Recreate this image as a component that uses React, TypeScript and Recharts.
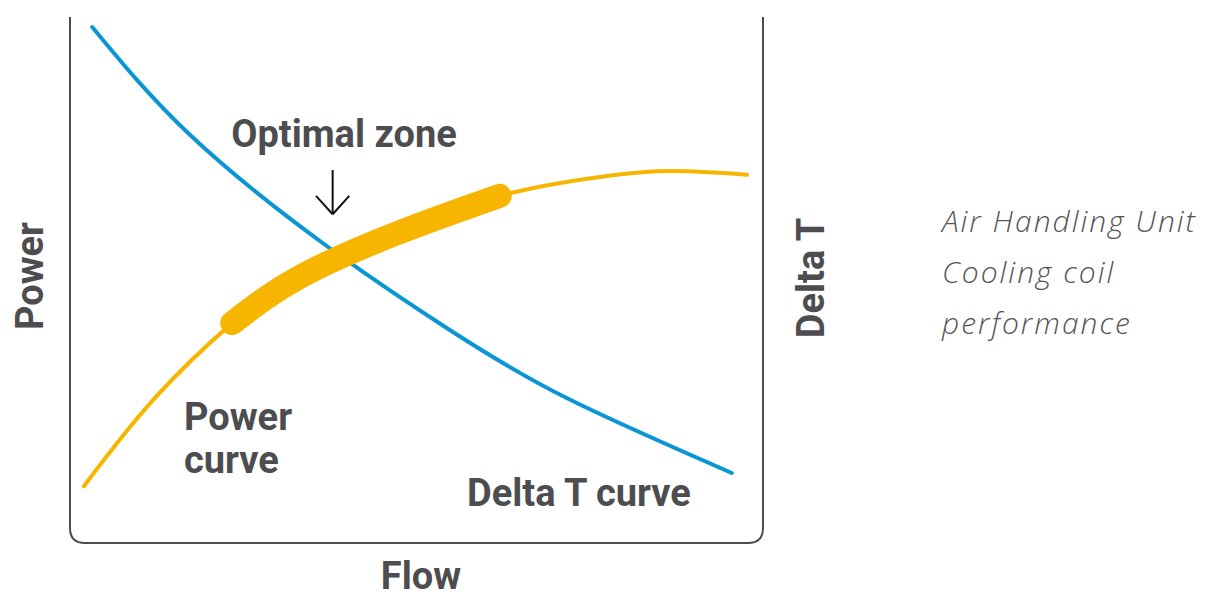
import { LineChart, Line, XAxis, YAxis, ReferenceLine, Customized } from "recharts";

// flow (0-100) and relative values
const deltaFlow = [3.2, 17.3, 36.8, 54.8, 71.6, 95.5];
const deltaValues = [98.1, 77.6, 56.7, 40.5, 27.6, 13.3];

const powerFlow = [2.0, 12.0, 23.4, 33.2, 47.6, 62.0, 76.5, 87.0, 97.7];
const powerValues = [10.8, 27.2, 41.8, 50.6, 59.1, 66.0, 69.6, 70.7, 70.0];

// the optimal zone covers this part of the power curve
const zoneFrom = 23.4;
const zoneTo = 62.0;

const deltaData = deltaFlow.map((x, i) => ({ x, y: deltaValues[i] }));
const powerData = powerFlow.map((x, i) => ({ x, y: powerValues[i] }));
const zoneData = powerData.filter((d) => d.x >= zoneFrom && d.x <= zoneTo);

const W = 1205;
const H = 597;
const margin = { top: 17, right: 442, bottom: 54, left: 70 };
const grey = "#4d4d4f";
const blue = "#0a96d4";
const orange = "#f8b500";

function Frame() {
  const x0 = margin.left;
  const x1 = W - margin.right;
  const y0 = margin.top;
  const y1 = H - margin.bottom;
  const r = 15;
  const bold = { fontFamily: "Roboto, sans-serif", fontWeight: 700, fill: grey };
  return (
    <g>
      <path
        d={`M${x0},${y0} L${x0},${y1 - r} Q${x0},${y1} ${x0 + r},${y1} L${x1 - r},${y1} Q${x1},${y1} ${x1},${y1 - r} L${x1},${y0}`}
        fill="none"
        stroke={grey}
        strokeWidth={2}
      />
      <text x={344} y={147} textAnchor="middle" fontSize={38} {...bold}>Optimal zone</text>
      <text x={184} y={430} fontSize={38} {...bold}>Power</text>
      <text x={184} y={473} fontSize={38} {...bold}>curve</text>
      <text x={467} y={506} fontSize={38} {...bold}>Delta T curve</text>
      <text x={421} y={589} textAnchor="middle" fontSize={38} {...bold}>Flow</text>
      <text x={43} y={276} textAnchor="middle" fontSize={38} transform="rotate(-90 43 276)" {...bold}>Power</text>
      <text x={824} y={278} textAnchor="middle" fontSize={38} transform="rotate(-90 824 278)" {...bold}>Delta T</text>
      <g fontFamily="'Open Sans', sans-serif" fontWeight={300} fontStyle="italic" fontSize={30} letterSpacing={2} fill="#555557">
        <text x={942} y={232}>Air Handling Unit</text>
        <text x={942} y={283}>Cooling coil</text>
        <text x={942} y={334}>performance</text>
      </g>
    </g>
  );
}

export default function App() {
  return (
    <div style={{ position: "absolute", left: 0, top: 0, background: "#fff" }}>
      <LineChart width={W} height={H} margin={margin}>
        <XAxis type="number" dataKey="x" domain={[0, 100]} hide />
        <YAxis type="number" domain={[0, 100]} hide />
        <Customized component={Frame} />
        <Line data={deltaData} dataKey="y" type="natural" stroke={blue} strokeWidth={4} dot={false} strokeLinecap="round" isAnimationActive={false} />
        <Line data={powerData} dataKey="y" type="natural" stroke={orange} strokeWidth={4} dot={false} strokeLinecap="round" isAnimationActive={false} />
        <Line data={zoneData} dataKey="y" type="natural" stroke={orange} strokeWidth={24} dot={false} strokeLinecap="round" isAnimationActive={false} />
        <ReferenceLine segment={[{ x: 37.9, y: 70.9 }, { x: 37.9, y: 62.5 }]} stroke="#111" strokeWidth={2} />
        <ReferenceLine segment={[{ x: 35.5, y: 66.0 }, { x: 37.9, y: 62.5 }]} stroke="#111" strokeWidth={2} />
        <ReferenceLine segment={[{ x: 40.3, y: 66.0 }, { x: 37.9, y: 62.5 }]} stroke="#111" strokeWidth={2} />
      </LineChart>
    </div>
  );
}
